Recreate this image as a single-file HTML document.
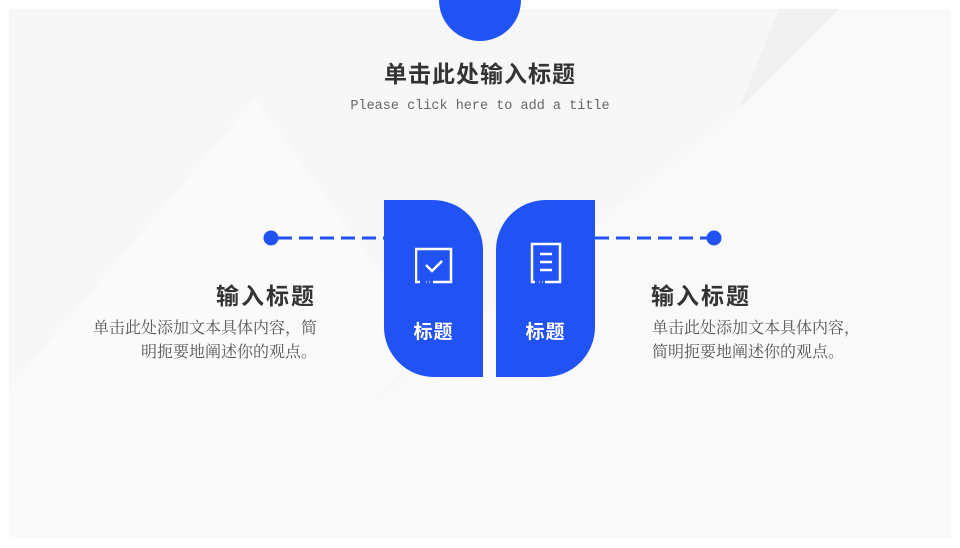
<!DOCTYPE html>
<html><head><meta charset="utf-8"><style>
body{margin:0;width:960px;height:548px;background:#fff;position:relative;overflow:hidden;font-family:"Liberation Sans","Noto Sans CJK SC",sans-serif}
.slide{position:absolute;left:9px;top:9px;width:942px;height:530px;background:#f7f7f8;overflow:hidden}
.abs{position:absolute}
.blk{position:absolute;top:200px;width:99px;height:177px;background:#2152f4}
.t{color:#fff;font-weight:bold;font-size:19px;position:absolute;width:99px;text-align:center;top:117px;letter-spacing:1px}
</style></head><body>
<div class="slide">
<svg class="abs" style="left:0;top:0" width="942" height="530">
<polygon points="0,380 246,90 420,330 340,420 280,530 0,530" fill="#fafafb"/>
<polygon points="730,100 830,0 942,0 942,530 270,530 330,420" fill="#f9f9fa"/>
<polygon points="730,100 770,0 830,0" fill="#f1f1f2"/>
</svg>
</div>
<div class="abs" style="left:439px;top:-41px;width:82px;height:82px;border-radius:50%;background:#2152f4"></div>
<div class="abs" style="left:0;width:960px;top:55px;text-align:center;font-size:23px;font-weight:bold;color:#333;letter-spacing:1px">单击此处输入标题</div>
<div class="abs" style="left:0;width:960px;top:99px;text-align:center;font-size:13.5px;color:#666;font-family:'Liberation Mono',monospace">Please click here to add a title</div>
<svg class="abs" style="left:0;top:0" width="960" height="548">
<line x1="278" y1="238" x2="384" y2="238" stroke="#2152f4" stroke-width="3" stroke-dasharray="14,7"/>
<line x1="595" y1="238" x2="708" y2="238" stroke="#2152f4" stroke-width="3" stroke-dasharray="14,7"/>
<circle cx="271" cy="238" r="7.5" fill="#2152f4"/>
<circle cx="714" cy="238" r="7.5" fill="#2152f4"/>
</svg>
<div class="blk" style="left:384px;border-radius:0 50px 0 50px/0 50px 0 50px"><div class="t">标题</div>
<svg class="abs" style="left:31px;top:47px" width="38" height="38"><path d="M5 35 H1 V2 H36 V35 H18 M14 35 h0.5 M11 35h0.5" stroke="#fff" stroke-width="2.5" fill="none"/><path d="M11 18 l6 6 l10 -10" stroke="#fff" stroke-width="2.5" fill="none"/></svg></div>
<div class="blk" style="left:496px;border-radius:50px 0 50px 0/50px 0 50px 0"><div class="t">标题</div>
<svg class="abs" style="left:34px;top:42px" width="32" height="42"><path d="M5 40 H2 V2 H30 V40 H15 M12 40h0.5 M9 40h0.5" stroke="#fff" stroke-width="2.5" fill="none"/><path d="M10 12h12M10 20h12M10 28h12" stroke="#fff" stroke-width="2.5"/></svg></div>
<div class="abs" style="left:150px;width:166px;top:277px;text-align:right;font-size:23px;font-weight:bold;color:#333;letter-spacing:2px">输入标题</div>
<div class="abs" style="left:40px;width:277px;top:317px;text-align:right;font-size:16px;line-height:24px;color:#555;font-family:'Liberation Serif','Noto Serif CJK SC',serif">单击此处添加文本具体内容，简<br>明扼要地阐述你的观点。</div>
<div class="abs" style="left:651px;width:200px;top:277px;font-size:23px;font-weight:bold;color:#333;letter-spacing:2px">输入标题</div>
<div class="abs" style="left:652px;width:280px;top:317px;font-size:16px;line-height:24px;color:#555;font-family:'Liberation Serif','Noto Serif CJK SC',serif">单击此处添加文本具体内容，<br>简明扼要地阐述你的观点。</div>
</body></html>
